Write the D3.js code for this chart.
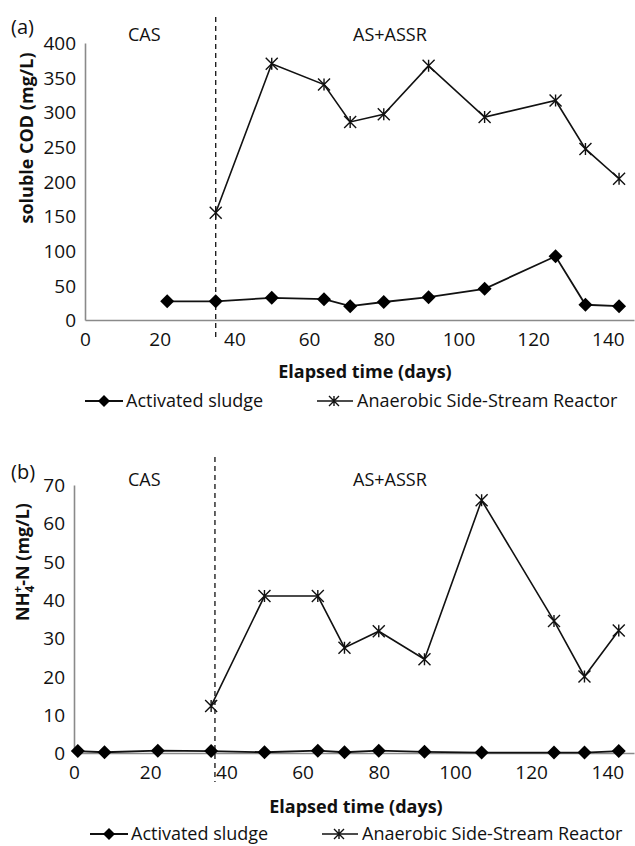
<!DOCTYPE html>
<html>
<head>
<meta charset="utf-8">
<script src="https://cdn.jsdelivr.net/npm/d3@7"></script>
<style>
  body { margin: 0; background: #fff; }
  svg text { font-family: "Open Sans", sans-serif; fill: #111; }
</style>
</head>
<body>
<div id="chart"></div>
<script>
// panel (a) soluble COD
var daysA_AS = [22, 35, 50, 64, 71, 80, 92, 107, 126, 134, 143];
var codAS = [27, 27, 32, 30, 20, 26, 33, 45, 92, 22, 20];
var daysA_ASSR = [35, 50, 64, 71, 80, 92, 107, 126, 134, 143];
var codASSR = [155, 370, 340, 286, 297, 367, 293, 317, 247, 204];
var switchDayA = 35;

// panel (b) NH4+-N
var daysB_AS = [1, 8, 22, 36, 50, 64, 71, 80, 92, 107, 126, 134, 143];
var nhAS = [0.5, 0.2, 0.6, 0.5, 0.2, 0.6, 0.2, 0.6, 0.3, 0.1, 0.1, 0.1, 0.5];
var daysB_ASSR = [36, 50, 64, 71, 80, 92, 107, 126, 134, 143];
var nhASSR = [12.3, 41, 41, 27.5, 31.8, 24.5, 66, 34.5, 20, 32];
var switchDayB = 37;

var xTicks = [0, 20, 40, 60, 80, 100, 120, 140];
var yTicksA = [0, 50, 100, 150, 200, 250, 300, 350, 400];
var yTicksB = [0, 10, 20, 30, 40, 50, 60, 70];
var seriesNames = ["Activated sludge", "Anaerobic Side-Stream Reactor"];

var svg = d3.select("#chart").append("svg").attr("width", 635).attr("height", 846);

function starPath(s) {
  return "M" + (-s) + "," + (-s) + "L" + s + "," + s +
         "M" + (-s) + "," + s + "L" + s + "," + (-s) +
         "M0," + (-s) + "L0," + s;
}
function diamondPath(s) {
  return "M0," + (-s) + "L" + s + ",0L0," + s + "L" + (-s) + ",0Z";
}

function panel(p) {
  var g = svg.append("g");
  var x = d3.scaleLinear().domain([0, 147]).range([p.x0, 634]);
  var y = d3.scaleLinear().domain([0, p.yMax]).range([p.yBottom, p.yTop]);

  // axes, no tick marks like the excel original
  var xAxis = d3.axisBottom(x).tickValues(xTicks).tickSize(0).tickPadding(13);
  var yAxis = d3.axisLeft(y).tickValues(p.yTicks).tickSize(0).tickPadding(9);
  var gx = g.append("g").attr("transform", "translate(0," + p.yBottom + ")").call(xAxis);
  var gy = g.append("g").attr("transform", "translate(" + p.x0 + ",0)").call(yAxis);
  [gx, gy].forEach(function (a) {
    a.select(".domain").attr("stroke", "#8a8a8a").attr("stroke-width", 1.6);
    a.selectAll("text").style("font-size", "19px").attr("fill", "#111");
  });
  gy.selectAll("text").attr("dy", "0.35em");

  // dashed phase line
  g.append("line")
    .attr("x1", x(p.switchDay)).attr("x2", x(p.switchDay))
    .attr("y1", p.dashTop).attr("y2", p.dashBottom)
    .attr("stroke", "#111").attr("stroke-width", 1.3)
    .attr("stroke-dasharray", "5,4");

  var line = d3.line().x(d => x(d[0])).y(d => y(d[1]));
  var as = p.asDays.map((d, i) => [d, p.asVals[i]]);
  var assr = p.assrDays.map((d, i) => [d, p.assrVals[i]]);

  g.append("path").attr("d", line(assr)).attr("fill", "none")
    .attr("stroke", "#111").attr("stroke-width", 1.6);
  g.append("path").attr("d", line(as)).attr("fill", "none")
    .attr("stroke", "#111").attr("stroke-width", 1.8);

  g.selectAll(".star").data(assr).enter().append("path")
    .attr("transform", d => "translate(" + x(d[0]) + "," + y(d[1]) + ")")
    .attr("d", starPath(6)).attr("stroke", "#111").attr("stroke-width", 1.4).attr("fill", "none");
  g.selectAll(".dia").data(as).enter().append("path")
    .attr("transform", d => "translate(" + x(d[0]) + "," + y(d[1]) + ")")
    .attr("d", diamondPath(7)).attr("fill", "#000");

  // labels
  g.append("text").attr("x", 11).attr("y", p.labelY - 7).style("font-size", "20px").text(p.tag);
  g.append("text").attr("x", 128).attr("y", p.labelY).style("font-size", "18px").text("CAS");
  g.append("text").attr("x", 353).attr("y", p.labelY).style("font-size", "18px").text("AS+ASSR");

  var yt = g.append("text")
    .attr("transform", "translate(" + p.yTitleX + "," + p.yTitleY + ") rotate(-90)")
    .attr("text-anchor", "middle").style("font-size", "18px").style("font-weight", "bold");
  if (p.nh) {
    yt.append("tspan").text("NH");
    yt.append("tspan").attr("dy", 5).style("font-size", "12px").text("4");
    yt.append("tspan").attr("dy", -12).attr("dx", -7).style("font-size", "12px").text("+");
    yt.append("tspan").attr("dy", 7).text("-N (mg/L)");
  } else {
    yt.text("soluble COD (mg/L)");
  }

  g.append("text").attr("x", p.xTitleX).attr("y", p.xTitleY)
    .attr("text-anchor", "middle").style("font-size", "18px").style("font-weight", "bold")
    .text("Elapsed time (days)");

  // legend
  var ly = p.legendY;
  var lg = g.append("g");
  lg.append("line").attr("x1", p.leg1).attr("x2", p.leg1 + 38).attr("y1", ly).attr("y2", ly)
    .attr("stroke", "#111").attr("stroke-width", 1.8);
  lg.append("path").attr("transform", "translate(" + (p.leg1 + 19) + "," + ly + ")")
    .attr("d", diamondPath(6)).attr("fill", "#000");
  lg.append("text").attr("x", p.leg1 + 41).attr("y", ly).attr("dy", "0.35em")
    .style("font-size", "18px").text(seriesNames[0]);
  lg.append("line").attr("x1", p.leg2).attr("x2", p.leg2 + 36).attr("y1", ly).attr("y2", ly)
    .attr("stroke", "#111").attr("stroke-width", 1.6);
  lg.append("path").attr("transform", "translate(" + (p.leg2 + 17) + "," + ly + ")")
    .attr("d", starPath(5)).attr("stroke", "#111").attr("stroke-width", 1.4).attr("fill", "none");
  lg.append("text").attr("x", p.leg2 + 40).attr("y", ly).attr("dy", "0.35em")
    .style("font-size", "18px").text(seriesNames[1]);
}

panel({
  tag: "(a)", x0: 85, yMax: 400, yTop: 43, yBottom: 320, yTicks: yTicksA,
  asDays: daysA_AS, asVals: codAS, assrDays: daysA_ASSR, assrVals: codASSR,
  switchDay: switchDayA, dashTop: 17, dashBottom: 340,
  labelY: 41, yTitleX: 33, yTitleY: 138, xTitleX: 365, xTitleY: 378,
  legendY: 401, leg1: 85, leg2: 317, nh: false
});

panel({
  tag: "(b)", x0: 74, yMax: 70, yTop: 485, yBottom: 753, yTicks: yTicksB,
  asDays: daysB_AS, asVals: nhAS, assrDays: daysB_ASSR, assrVals: nhASSR,
  switchDay: switchDayB, dashTop: 457, dashBottom: 782,
  labelY: 486, yTitleX: 29, yTitleY: 562, xTitleX: 356, xTitleY: 813,
  legendY: 834, leg1: 90, leg2: 322, nh: true
});
</script>
</body>
</html>
